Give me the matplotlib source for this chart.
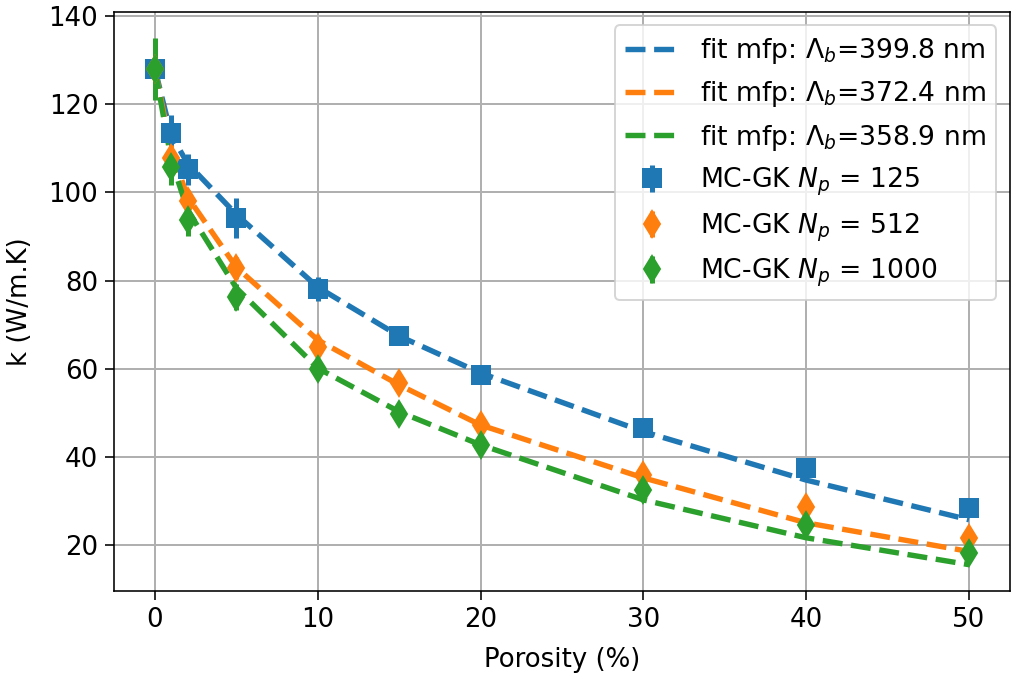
import matplotlib
matplotlib.use("Agg")
import matplotlib.pyplot as plt

## Data
porosity = [0, 1, 2, 5, 10, 15, 20, 30, 40, 50]

# MC-GK results for each number of particles
k_np125 = [128.0, 113.5, 105.3, 94.2, 78.1, 67.4, 58.6, 46.5, 37.5, 28.4]
err_np125 = [2.0, 4.0, 3.5, 4.5, 2.7, 1.5, 1.0, 0.8, 0.6, 0.5]
k_np512 = [128.0, 107.8, 98.0, 82.8, 64.9, 56.7, 47.2, 35.9, 28.7, 21.5]
err_np512 = [3.0, 3.0, 2.5, 2.5, 1.5, 1.2, 1.0, 0.8, 0.6, 0.5]
k_np1000 = [128.0, 105.8, 93.7, 76.3, 59.9, 49.7, 42.7, 32.5, 24.5, 18.1]
err_np1000 = [7.0, 4.0, 3.6, 3.0, 1.5, 1.0, 0.8, 0.6, 0.5, 0.4]

# Fitted mean-free-path model evaluated at the same porosities
fit_np125 = [128.0, 113.0, 106.6, 95.0, 78.5, 67.4, 59.0, 45.7, 34.7, 25.7]
fit_np512 = [128.0, 109.6, 99.0, 83.0, 66.5, 56.3, 47.2, 35.2, 25.0, 18.5]
fit_np1000 = [128.0, 107.3, 96.0, 78.3, 60.1, 50.2, 42.7, 30.2, 21.6, 15.5]

fit_labels = [r"fit mfp: $\Lambda_b$=399.8 nm",
              r"fit mfp: $\Lambda_b$=372.4 nm",
              r"fit mfp: $\Lambda_b$=358.9 nm"]
mc_labels = [r"MC-GK $N_p$ = 125",
             r"MC-GK $N_p$ = 512",
             r"MC-GK $N_p$ = 1000"]

colors = ["#1f77b4", "#ff7f0e", "#2ca02c"]

## Plot
fig, ax = plt.subplots(figsize=(1016 / 144, 684 / 144), dpi=144)

# Fitted curves (dashed).
for fit, lab, c in zip([fit_np125, fit_np512, fit_np1000], fit_labels, colors):
  ax.plot(porosity, fit, "--", color=c, linewidth=2.7, label=lab)

# Simulation points with error bars.
markers = ["s", "d", "d"]
for k, err, lab, c, m in zip([k_np125, k_np512, k_np1000],
                             [err_np125, err_np512, err_np1000],
                             mc_labels, colors, markers):
  ax.errorbar(porosity, k, yerr=err, fmt=m, color=c, markersize=9,
              elinewidth=2.5, label=lab)

ax.set_xlabel("Porosity (%)", fontsize=13, labelpad=7)
ax.set_ylabel("k (W/m.K)", fontsize=13, labelpad=8)
ax.tick_params(labelsize=13, length=4.5)
ax.grid(True, color="#b0b0b0", linewidth=1.0)
ax.legend(fontsize=13.3, loc="upper right")

fig.subplots_adjust(left=0.1125, right=0.9938, top=0.9825, bottom=0.136)
fig.savefig("out.png", dpi=144)
